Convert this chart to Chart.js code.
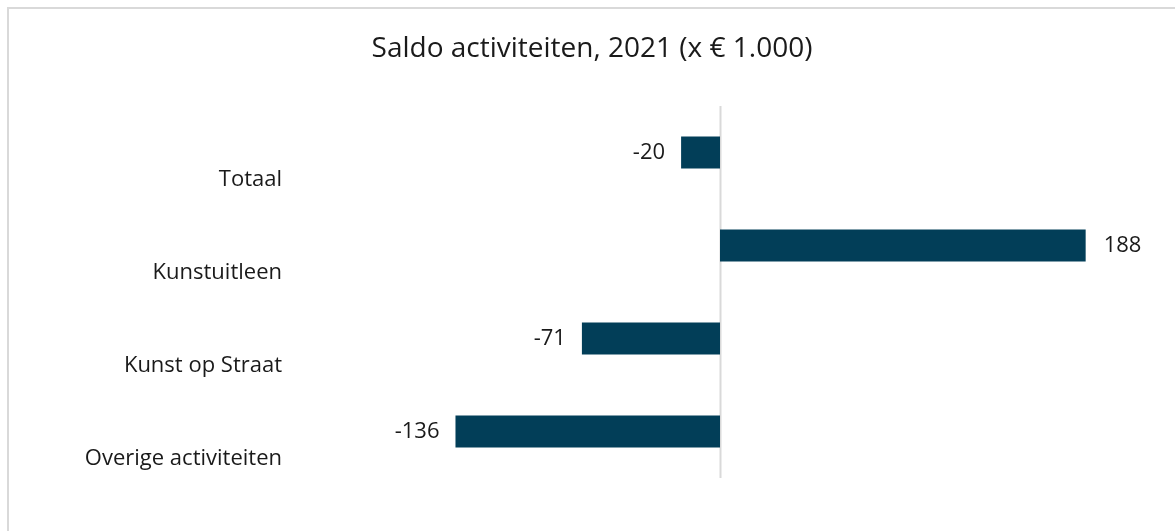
<!DOCTYPE html>
<html>
<head>
<meta charset="utf-8">
<script src="https://cdn.jsdelivr.net/npm/chart.js@4"></script>
<style>
    html, body { margin: 0; padding: 0; background: #fff; }
    #wrap { position: relative; width: 1175px; height: 531px; }
</style>
</head>
<body>
<div id="wrap"><canvas id="grafico"></canvas></div>
<script>
const categorieen = ['Totaal', 'Kunstuitleen', 'Kunst op Straat', 'Overige activiteiten'];
const saldo = [-20, 188, -71, -136];
const titel = 'Saldo activiteiten, 2021 (x € 1.000)';

const fonte = '"Open Sans", Lato, sans-serif';
const corBarra = '#023e58';

// rand, titel, nullijn en waardelabels
const extras = {
    id: 'extras',
    beforeDraw(chart) {
        const c = chart.ctx;
        c.save();
        c.strokeStyle = '#d9d9d9';
        c.lineWidth = 2;
        c.beginPath();
        c.moveTo(8, 531);
        c.lineTo(8, 8);
        c.lineTo(1175, 8);
        c.stroke();

        c.fillStyle = '#1a1a1a';
        c.font = '28px ' + fonte;
        c.textAlign = 'center';
        c.textBaseline = 'middle';
        c.fillText(titel, 592, 49);

        const x0 = Math.round(chart.scales.x.getPixelForValue(0)) + 0.5;
        c.strokeStyle = '#d9d9d9';
        c.lineWidth = 2;
        c.beginPath();
        c.moveTo(x0, chart.chartArea.top);
        c.lineTo(x0, chart.chartArea.bottom);
        c.stroke();
        c.restore();
    },
    afterDatasetsDraw(chart) {
        const c = chart.ctx;
        c.save();
        c.fillStyle = '#1a1a1a';
        c.font = '22px ' + fonte;
        c.textBaseline = 'middle';
        chart.getDatasetMeta(0).data.forEach((bar, i) => {
            const v = saldo[i];
            if (v < 0) {
                c.textAlign = 'right';
                c.fillText(String(v), bar.x - 16, bar.y);
            } else {
                c.textAlign = 'left';
                c.fillText(String(v), bar.x + 18, bar.y);
            }
        });
        c.restore();
    }
};

new Chart(document.getElementById('grafico'), {
    type: 'bar',
    data: {
        labels: categorieen,
        datasets: [{
            data: saldo,
            backgroundColor: corBarra,
            borderWidth: 0,
            categoryPercentage: 1,
            barPercentage: 0.345
        }]
    },
    options: {
        indexAxis: 'y',
        responsive: true,
        maintainAspectRatio: false,
        animation: false,
        layout: {
            padding: { top: 106, right: 66, bottom: 53, left: 0 }
        },
        plugins: {
            legend: { display: false },
            title: { display: false },
            tooltip: { enabled: false }
        },
        scales: {
            x: {
                display: false,
                min: -200,
                max: 200
            },
            y: {
                afterFit(scale) {
                    scale.width = 331;
                    scale.paddingTop = 0;
                    scale.paddingBottom = 0;
                },
                grid: { display: false, drawTicks: false },
                border: { display: false },
                ticks: {
                    padding: 49,
                    labelOffset: 27,
                    color: '#1a1a1a',
                    font: { family: fonte, size: 22 }
                }
            }
        }
    },
    plugins: [extras]
});
</script>
</body>
</html>
